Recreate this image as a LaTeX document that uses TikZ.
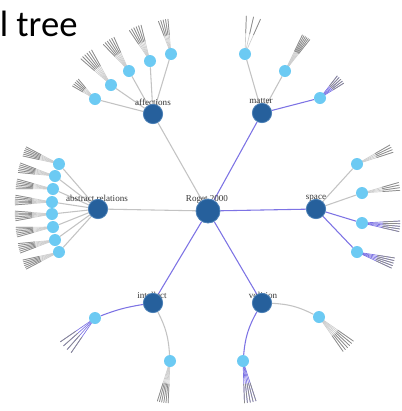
\documentclass[tikz,border=0pt]{standalone}
\usepackage{fontspec}
\setmainfont{Liberation Serif}
\newfontfamily\titlefont{Carlito}
\usetikzlibrary{calc,backgrounds}
\definecolor{darknode}{RGB}{38,96,156}
\definecolor{darkrim}{RGB}{75,128,182}
\definecolor{lightnode}{RGB}{108,202,243}
\definecolor{bluedge}{RGB}{125,115,228}
\definecolor{grayedge}{RGB}{195,195,195}
\definecolor{fanin}{RGB}{205,205,205}
\definecolor{fanout}{RGB}{140,140,140}
\definecolor{labelcol}{RGB}{55,55,55}
\tikzset{
  rootnode/.style={circle,fill=darknode,draw=darkrim,line width=0.6pt,minimum size=18pt,inner sep=0pt},
  midnode/.style={circle,fill=darknode,draw=darkrim,line width=0.6pt,minimum size=14.5pt,inner sep=0pt},
  leafnode/.style={circle,fill=lightnode,minimum size=9pt,inner sep=0pt},
  lbl/.style={font=\fontsize{6.8}{7}\selectfont,text=labelcol,inner sep=0pt},
  gedge/.style={draw=grayedge,line width=0.8pt},
  bedge/.style={draw=bluedge,line width=0.8pt},
  fangray/.style={draw=fanin,line width=0.5pt},
  fanblue/.style={draw=bluedge,line width=0.5pt},
  fanouter/.style={draw=fanout,line width=0.55pt,line cap=round},
}
% node, math angle, length, spread, count, inner style
\newcommand{\myfan}[6]{%
  \foreach \k in {1,...,#5}{%
    \pgfmathsetmacro{\aa}{-(#2)+(\k-(#5+1)/2)*(#4)}%
    \draw[#6] (#1.center) -- ($(#1.center)+(\aa:#3)$);%
    \draw[fanouter] ($(#1.center)+(\aa:0.55*#3)$) -- ($(#1.center)+(\aa:#3)$);%
  }}
\begin{document}
\begin{tikzpicture}[x=0.75pt,y=-0.75pt]
\useasboundingbox (0,0) rectangle (401,411);
\node[font=\titlefont\fontsize{27.5}{30}\selectfont,anchor=base west,inner sep=0pt] (title) at (-0.5,36.5) {l tree};

% labels (behind nodes)
\node[lbl] (Lroot) at (207,199) {Roget 2000};
\node[lbl] (Laff) at (153,102) {affections};
\node[lbl] (Lmat) at (261,101) {matter};
\node[lbl] (Labs) at (97,198) {abstract relations};
\node[lbl] (Lspa) at (316,198) {space};
\node[lbl] (Lintl) at (152,295) {intellect};
\node[lbl] (Lvol) at (263,295) {volition};

% main nodes
\node[rootnode] (R) at (208,211) {};
\node[midnode] (aff) at (153,114) {};
\node[midnode] (mat) at (262,113) {};
\node[midnode] (abs) at (98,209) {};
\node[midnode] (spa) at (316,209) {};
\node[midnode] (intl) at (153,303) {};
\node[midnode] (vol) at (262,303) {};

% leaves
\node[leafnode] (a1) at (95,99) {};
\node[leafnode] (a2) at (111,85) {};
\node[leafnode] (a3) at (129,71) {};
\node[leafnode] (a4) at (150,61) {};
\node[leafnode] (a5) at (171,54) {};
\node[leafnode] (m1) at (245,54) {};
\node[leafnode] (m2) at (285,71) {};
\node[leafnode] (m3) at (320,98) {};
\node[leafnode] (b1) at (59,164) {};
\node[leafnode] (b2) at (55,176) {};
\node[leafnode] (b3) at (53,189) {};
\node[leafnode] (b4) at (52,202) {};
\node[leafnode] (b5) at (52,214) {};
\node[leafnode] (b6) at (53,227) {};
\node[leafnode] (b7) at (55,240) {};
\node[leafnode] (b8) at (59,252) {};
\node[leafnode] (s1) at (357,164) {};
\node[leafnode] (s2) at (362,193) {};
\node[leafnode] (s3) at (362,223) {};
\node[leafnode] (s4) at (357,252) {};
\node[leafnode] (i1) at (95,318) {};
\node[leafnode] (i2) at (170,361) {};
\node[leafnode] (v1) at (319,317) {};
\node[leafnode] (v2) at (243,361) {};

\begin{pgfonlayer}{background}
% root edges
\draw[gedge] (R) -- (aff);
\draw[bedge] (R) -- (mat);
\draw[gedge] (R) -- (abs);
\draw[bedge] (R) -- (spa);
\draw[bedge] (R) -- (intl);
\draw[bedge] (R) -- (vol);
% mid to leaf edges
\foreach \n in {a1,a2,a3,a4,a5} \draw[gedge] (aff) -- (\n);
\draw[gedge] (mat) -- (m1);
\draw[gedge] (mat) -- (m2);
\draw[bedge] (mat) -- (m3);
\foreach \n in {b1,b2,b3,b4,b5,b6,b7,b8} \draw[gedge] (abs) -- (\n);
\draw[gedge] (spa) -- (s1);
\draw[gedge] (spa) -- (s2);
\draw[bedge] (spa) -- (s3);
\draw[bedge] (spa) -- (s4);
\draw[bedge] (intl) to[bend right=6] (i1);
\draw[gedge] (intl) to[bend left=12] (i2);
\draw[gedge] (vol) to[bend left=12] (v1);
\draw[bedge] (vol) to[bend right=12] (v2);
% fans
\myfan{a1}{140}{26}{5}{5}{fangray}
\myfan{a2}{129}{40}{4}{6}{fangray}
\myfan{a3}{124}{37}{4}{6}{fangray}
\myfan{a4}{114}{37}{4}{6}{fangray}
\myfan{a5}{103}{35}{4}{5}{fangray}
\myfan{m1}{77}{38}{11}{3}{fangray}
\myfan{m2}{58}{40}{2.5}{6}{fangray}
\myfan{m3}{42}{28}{5}{5}{fanblue}
\myfan{b1}{160}{37}{3}{6}{fangray}
\myfan{b2}{167}{37}{3}{6}{fangray}
\myfan{b3}{172}{37}{3}{6}{fangray}
\myfan{b4}{177}{37}{3}{6}{fangray}
\myfan{b5}{183}{37}{3}{6}{fangray}
\myfan{b6}{188}{37}{3}{6}{fangray}
\myfan{b7}{193}{37}{3}{6}{fangray}
\myfan{b8}{200}{37}{3}{6}{fangray}
\myfan{s1}{24}{38}{4}{4}{fangray}
\myfan{s2}{10}{38}{4}{4}{fangray}
\myfan{s3}{-5}{38}{4}{5}{fanblue}
\myfan{s4}{-17}{38}{4}{5}{fanblue}
\myfan{i1}{-135}{42}{7}{4}{fanblue}
\myfan{i2}{-100}{42}{3}{6}{fangray}
\myfan{v1}{-45}{42}{4}{6}{fangray}
\myfan{v2}{-80}{42}{4}{5}{fanblue}
\end{pgfonlayer}
\end{tikzpicture}
\end{document}
